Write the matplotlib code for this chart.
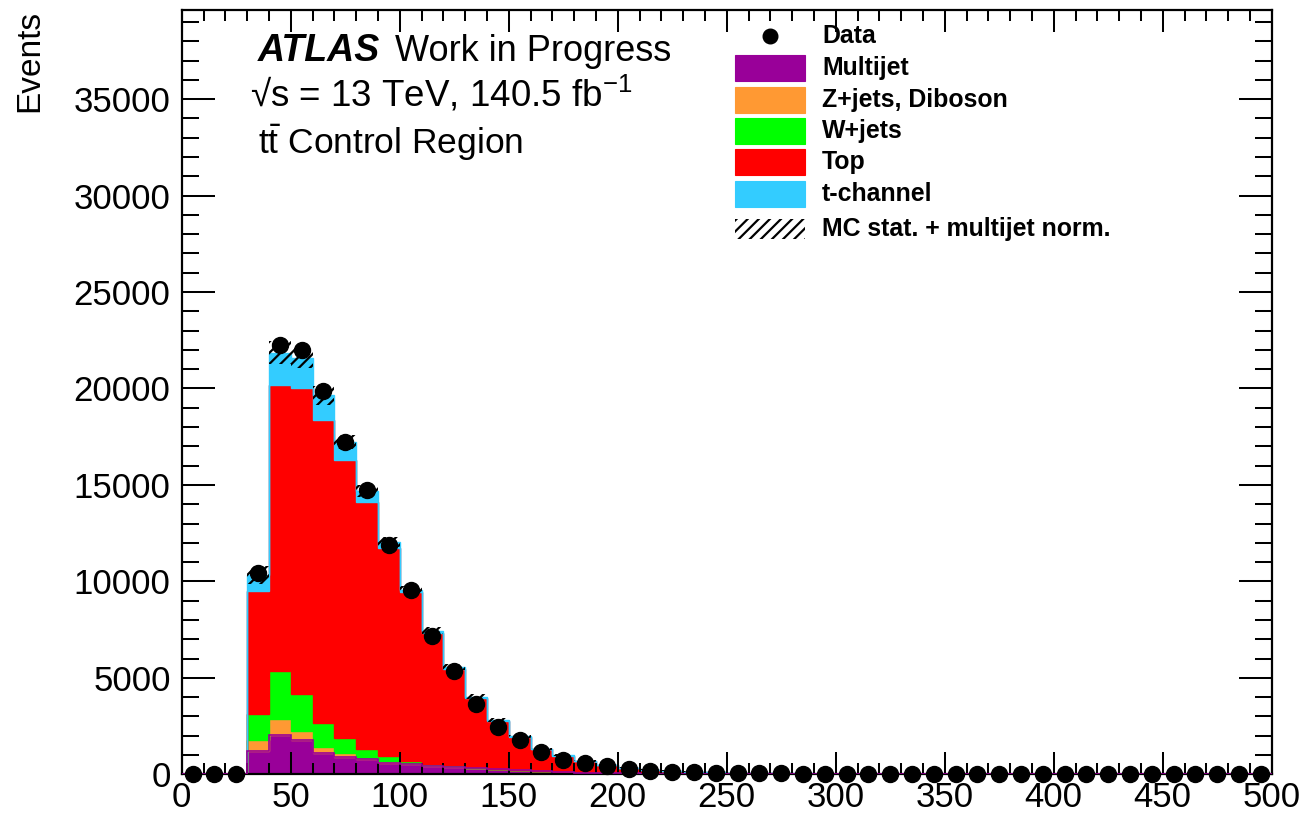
import numpy as np
import matplotlib
matplotlib.use("Agg")
import matplotlib.pyplot as plt
from matplotlib.patches import Rectangle
from matplotlib.ticker import MultipleLocator

plt.rcParams['font.family'] = ['Liberation Sans', 'DejaVu Sans']
plt.rcParams['mathtext.fontset'] = 'custom'
plt.rcParams['mathtext.rm'] = 'Liberation Sans'
plt.rcParams['mathtext.it'] = 'Liberation Sans:italic'
plt.rcParams['mathtext.bf'] = 'Liberation Sans:bold'
plt.rcParams['hatch.linewidth'] = 1.6

# Binning: 50 bins of width 10 from 0 to 500
bin_edges = np.arange(0, 510, 10)

# Background components (events per bin)
multijet = [0, 0, 0, 1210, 2030, 1760, 1120, 920, 780, 610,
            520, 430, 400, 330, 250, 200, 150, 120, 90, 70,
            50, 40, 30, 25, 20, 15, 12, 10, 8, 7,
            6, 5, 5, 4, 4, 3, 3, 3, 2, 2,
            2, 2, 1, 1, 1, 1, 1, 1, 1, 1]
zjets_diboson = [0, 0, 0, 550, 830, 490, 300, 170, 80, 80,
                 60, 50, 40, 20, 20, 20, 10, 10, 10, 10,
                 10, 5, 5, 4, 3, 3, 2, 2, 2, 1,
                 1, 1, 1, 1, 1, 1, 1, 0, 0, 0,
                 0, 0, 0, 0, 0, 0, 0, 0, 0, 0]
wjets = [0, 0, 0, 1390, 2490, 1900, 1260, 780, 440, 260,
         110, 70, 40, 30, 30, 20, 20, 10, 10, 5,
         5, 5, 4, 3, 3, 2, 2, 2, 1, 1,
         1, 1, 1, 1, 1, 0, 0, 0, 0, 0,
         0, 0, 0, 0, 0, 0, 0, 0, 0, 0]
top = [0, 0, 0, 6350, 14820, 15850, 15670, 14440, 12840, 10760,
       8780, 6770, 5000, 3570, 2480, 1690, 1120, 830, 570, 390,
       270, 190, 140, 100, 75, 58, 46, 37, 30, 25,
       20, 17, 14, 12, 10, 9, 8, 7, 6, 5,
       4, 4, 3, 3, 3, 2, 2, 2, 2, 1]
tchannel = [0, 0, 0, 830, 1690, 1590, 1290, 910, 540, 340,
            100, 120, 90, 70, 40, 30, 20, 20, 10, 10,
            10, 5, 5, 4, 3, 3, 2, 2, 2, 1,
            1, 1, 1, 1, 1, 1, 1, 1, 0, 0,
            0, 0, 0, 0, 0, 0, 0, 0, 0, 0]

# Total uncertainty (MC stat. + multijet normalisation)
uncertainty = [0, 0, 0, 450, 600, 550, 500, 350, 300, 250,
               200, 170, 150, 120, 100, 80, 60, 50, 40, 30,
               25, 20, 15, 12, 10, 8, 6, 5, 4, 4,
               3, 3, 3, 2, 2, 2, 2, 2, 1, 1,
               1, 1, 1, 1, 1, 1, 1, 1, 1, 1]

# Observed data
data = [0, 0, 0, 10420, 22250, 21970, 19870, 17220, 14730, 11890,
        9550, 7180, 5330, 3660, 2470, 1780, 1170, 720, 570, 420,
        270, 185, 135, 105, 85, 70, 58, 48, 40, 33,
        27, 22, 18, 15, 13, 11, 9, 8, 7, 6,
        5, 4, 4, 3, 3, 2, 2, 2, 1, 1]

labels = ['Multijet', 'Z+jets, Diboson', 'W+jets', 'Top', 't-channel']
colors = ['#990099', '#FF9933', '#00FF00', '#FF0000', '#33CCFF']
components = [multijet, zjets_diboson, wjets, top, tchannel]

fig = plt.figure(figsize=(13.05, 8.14), dpi=100)
ax = fig.add_axes([181.7 / 1305, (814 - 774.3) / 814, 1090 / 1305, 764.3 / 814])

# Stacked backgrounds
base = np.zeros(len(bin_edges) - 1)
for vals, col in zip(components, colors):
    vals = np.asarray(vals, dtype=float)
    ax.stairs(base + vals, bin_edges, baseline=base, fill=True,
              facecolor=col, edgecolor=col, linewidth=1.0, zorder=1)
    base = base + vals
total = base

# Multijet outline along the bottom
ax.stairs(np.asarray(multijet, float), bin_edges, color=colors[0],
          linewidth=1.2, zorder=2.6)

# Uncertainty band
unc = np.asarray(uncertainty, float)
ax.bar(bin_edges[:-1], 2 * unc, bottom=total - unc, width=10, align='edge',
       fill=False, hatch='///', edgecolor='black', linewidth=0, zorder=2)

# Data points
centers = 0.5 * (bin_edges[:-1] + bin_edges[1:])
d = np.asarray(data, float)
ax.errorbar(centers, d, yerr=np.sqrt(d), fmt='o', color='black',
            markersize=11.5, elinewidth=1.5, capsize=0, zorder=4, clip_on=False)

ax.set_xlim(0, 500)
ax.set_ylim(0, 39620)
ax.xaxis.set_major_locator(MultipleLocator(50))
ax.xaxis.set_minor_locator(MultipleLocator(10))
ax.yaxis.set_major_locator(MultipleLocator(5000))
ax.yaxis.set_minor_locator(MultipleLocator(1000))
ax.tick_params(axis='both', which='both', direction='in', top=True, right=True,
               width=1.45, labelsize=25)
ax.tick_params(axis='x', which='major', length=15.8, pad=5)
ax.tick_params(axis='x', which='minor', length=7.9)
ax.tick_params(axis='y', which='major', length=23.8, pad=8)
ax.tick_params(axis='y', which='minor', length=12.2)
for sp in ax.spines.values():
    sp.set_linewidth(1.6)

ax.set_ylabel('Events', fontsize=24, loc='top')
ax.yaxis.set_label_coords(-0.125, 1.0)

# Labels
ax.text(0.0697, 0.933, 'ATLAS', transform=ax.transAxes, fontsize=27,
        fontweight='bold', fontstyle='italic', va='baseline', ha='left')
ax.text(0.1955, 0.933, 'Work in Progress', transform=ax.transAxes, fontsize=26,
        va='baseline', ha='left')
ax.text(0.063, 0.874, '\u221as = 13 TeV, 140.5 fb$^{-1}$', transform=ax.transAxes,
        fontsize=26.5, va='baseline', ha='left')
ax.text(0.0697, 0.811, r'$\mathrm{t\bar{t}}$ Control Region', transform=ax.transAxes,
        fontsize=25.5, va='baseline', ha='left')

# Legend
def px_to_ax(xp, yp):
    return (xp - 181.7) / 1090, (774.3 - yp) / 764.3

text_x = px_to_ax(822, 0)[0]
row_y = [36, 68, 100, 131, 162, 194, 229]
mx, my = px_to_ax(770, row_y[0])
ax.plot([mx], [my], 'o', color='black', markersize=10.5, transform=ax.transAxes,
        clip_on=False, zorder=5)
ax.text(text_x, my, 'Data', transform=ax.transAxes, fontsize=17.9,
        fontweight='bold', va='center', ha='left')
bx0 = px_to_ax(735, 0)[0]
bw = px_to_ax(805, 0)[0] - bx0
bh = 25 / 764.3
for lab, col, yp in zip(labels, colors, row_y[1:6]):
    _, yc = px_to_ax(0, yp)
    ax.add_patch(Rectangle((bx0, yc - bh / 2), bw, bh, transform=ax.transAxes,
                           facecolor=col, edgecolor=col, linewidth=0.8, zorder=5))
    ax.text(text_x, yc, lab, transform=ax.transAxes, fontsize=17.9,
            fontweight='bold', va='center', ha='left')
_, yc = px_to_ax(0, row_y[6])
hh = 20 / 764.3
ax.add_patch(Rectangle((bx0, yc - hh / 2), bw, hh, transform=ax.transAxes,
                       fill=False, hatch='///', edgecolor='black', linewidth=0, zorder=5))
ax.text(text_x, yc, 'MC stat. + multijet norm.', transform=ax.transAxes,
        fontsize=17.9, fontweight='bold', va='center', ha='left')

fig.savefig('out.png', dpi=100)
